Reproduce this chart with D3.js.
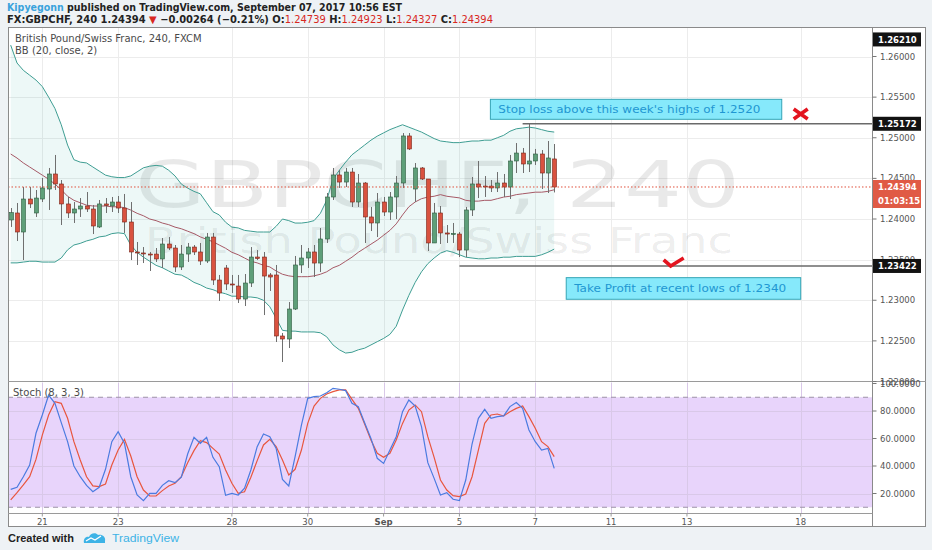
<!DOCTYPE html>
<html><head><meta charset="utf-8">
<script src="https://cdn.jsdelivr.net/npm/d3@7"></script>
<style>
body{margin:0;background:#eef2f5;}
svg{display:block;font-family:'DejaVu Sans',Verdana,sans-serif;}
</style></head>
<body><svg id="c" width="932" height="550"></svg>
<script>
// ---------- DATA ----------
const opens=[1.23988,1.24074,1.2384,1.24246,1.24074,1.24246,1.24369,1.24554,1.24431,1.24185,
1.24074,1.24123,1.2416,1.24123,1.23902,1.24185,1.2416,1.24209,1.24135,1.23963,
1.23594,1.23582,1.23569,1.23569,1.23508,1.23692,1.23643,1.23409,1.23569,1.23655,
1.23594,1.23483,1.23778,1.23249,1.23397,1.232,1.23175,1.23015,1.23212,1.23532,
1.23532,1.23311,1.23311,1.2256,1.22523,1.22892,1.23434,1.2352,1.23594,1.23458,
1.23754,1.24271,1.24542,1.24455,1.24578,1.24209,1.24443,1.24025,1.23951,1.24209,
1.24086,1.24271,1.24443,1.25022,1.24369,1.24628,1.24492,1.23705,1.24074,1.23828,
1.23815,1.23815,1.23618,1.24111,1.24431,1.24406,1.24406,1.24382,1.24443,1.24394,
1.24714,1.24812,1.24677,1.24714,1.248,1.24566,1.24739];
const highs=[1.24135,1.24197,1.24394,1.24394,1.24357,1.24505,1.24628,1.24788,1.2448,1.24271,
1.24209,1.24258,1.24332,1.24172,1.24234,1.24258,1.24271,1.24283,1.24308,1.24209,
1.23717,1.23655,1.23594,1.23643,1.23766,1.23778,1.2368,1.2368,1.23705,1.2368,
1.23705,1.23828,1.23828,1.23311,1.23434,1.23311,1.23311,1.23323,1.23655,1.23618,
1.23594,1.23335,1.23434,1.22597,1.22978,1.23545,1.2368,1.23643,1.2368,1.23889,
1.2432,1.24628,1.24603,1.24628,1.24628,1.24554,1.24455,1.24148,1.2432,1.24271,
1.24332,1.24529,1.25058,1.25058,1.24689,1.2464,1.24492,1.24197,1.2416,1.23926,
1.23951,1.2384,1.24148,1.24517,1.24714,1.24529,1.2448,1.24578,1.24554,1.24788,
1.24935,1.24874,1.25172,1.24862,1.24849,1.2496,1.24923];
const lows=[1.23902,1.23729,1.23495,1.24135,1.24025,1.24209,1.24111,1.24357,1.23926,1.24012,
1.23951,1.24025,1.24086,1.23815,1.23889,1.24074,1.24086,1.24074,1.23828,1.23495,
1.23434,1.23458,1.2336,1.23471,1.23397,1.23618,1.23348,1.23372,1.23471,1.23557,
1.23434,1.23458,1.23188,1.22991,1.23126,1.23089,1.22966,1.22929,1.23163,1.23495,
1.22818,1.23114,1.22486,1.2224,1.22412,1.2288,1.23335,1.23397,1.23286,1.23348,
1.23705,1.24234,1.24382,1.24394,1.24148,1.24148,1.23705,1.23852,1.23778,1.24037,
1.23988,1.24,1.24382,1.24849,1.24209,1.2448,1.23606,1.23705,1.23692,1.23705,
1.23705,1.23532,1.23532,1.24037,1.24258,1.24271,1.24332,1.24332,1.24271,1.24246,
1.24566,1.24566,1.24578,1.24665,1.24369,1.2432,1.24327];
const closes=[1.24078,1.2384,1.24246,1.24185,1.24258,1.24382,1.24554,1.24431,1.24185,1.24074,
1.24123,1.2416,1.24123,1.23914,1.24185,1.24166,1.24209,1.24135,1.23963,1.23594,
1.23582,1.23574,1.23561,1.23508,1.23692,1.23643,1.23409,1.23569,1.23655,1.23594,
1.23483,1.23778,1.23249,1.23089,1.232,1.23188,1.23015,1.23212,1.23532,1.23514,
1.23298,1.23286,1.2256,1.22523,1.22892,1.23434,1.2352,1.23594,1.23458,1.23754,
1.24271,1.24542,1.24455,1.24578,1.24209,1.24443,1.24025,1.23951,1.24209,1.24086,
1.24271,1.24443,1.25022,1.24862,1.24628,1.24492,1.23705,1.24074,1.23828,1.23815,
1.23822,1.23618,1.24111,1.24431,1.24394,1.24394,1.24382,1.24443,1.24394,1.24714,
1.24812,1.24677,1.24714,1.248,1.24566,1.24751,1.24394];

const bbUpper=[1.2614,1.2592,1.2583,1.2577,1.2571,1.2563,1.2550,1.2536,1.2516,1.2491,
1.2473,1.2470,1.2469,1.2464,1.2459,1.2454,1.2452,1.2451,1.2451,1.2453,
1.2458,1.2463,1.2465,1.2466,1.2465,1.2460,1.2453,1.2443,1.2438,1.2434,
1.2431,1.2420,1.2409,1.2405,1.2396,1.2390,1.2389,1.2386,1.2385,1.2384,
1.2384,1.2384,1.2391,1.2400,1.2398,1.2395,1.2395,1.2396,1.2398,1.2407,
1.2423,1.2449,1.2460,1.2470,1.2479,1.2485,1.2491,1.2497,1.2502,1.2506,
1.2510,1.2513,1.2516,1.2513,1.2510,1.2507,1.2503,1.2499,1.2496,1.2495,
1.2494,1.2494,1.2495,1.2496,1.2496,1.2497,1.2497,1.2500,1.2503,1.2508,
1.2511,1.2512,1.2513,1.2512,1.2510,1.2508,1.2507];
const bbBasis=[1.2480,1.2475,1.2469,1.2464,1.2459,1.2454,1.2449,1.2443,1.2436,1.2428,
1.2423,1.2420,1.2417,1.2416,1.2416,1.2416,1.2415,1.2415,1.2414,1.2411,
1.2407,1.2404,1.2400,1.2398,1.2395,1.2393,1.2390,1.2388,1.2385,1.2382,
1.2378,1.2375,1.2372,1.2368,1.2364,1.2359,1.2356,1.2352,1.2348,1.2346,
1.2343,1.2341,1.2336,1.2332,1.2330,1.2329,1.2329,1.2329,1.2330,1.2332,
1.2335,1.2340,1.2343,1.2348,1.2353,1.2359,1.2364,1.2369,1.2374,1.2380,
1.2386,1.2394,1.2405,1.2415,1.2421,1.2425,1.2427,1.2428,1.2430,1.2428,
1.2427,1.2426,1.2423,1.2422,1.2422,1.2423,1.2423,1.2425,1.2427,1.2428,
1.2430,1.2431,1.2432,1.2433,1.2433,1.2434,1.2436];
const bbLower=[1.2346,1.2346,1.2347,1.2348,1.2348,1.2347,1.2347,1.2347,1.2352,1.2362,
1.2368,1.2370,1.2373,1.2375,1.2378,1.2379,1.2382,1.2383,1.2382,1.2368,
1.2359,1.2353,1.2348,1.2343,1.2340,1.2336,1.2332,1.2331,1.2327,1.2322,
1.2319,1.2315,1.2313,1.2310,1.2308,1.2305,1.2305,1.2304,1.2304,1.2303,
1.2300,1.2292,1.2278,1.2263,1.2262,1.2262,1.2261,1.2261,1.2261,1.2260,
1.2255,1.2245,1.2239,1.2235,1.2236,1.2239,1.2241,1.2245,1.2249,1.2253,
1.2258,1.2268,1.2288,1.2306,1.2322,1.2335,1.2345,1.2352,1.2358,1.2361,
1.2359,1.2356,1.2353,1.2352,1.2351,1.2351,1.2352,1.2352,1.2353,1.2353,
1.2354,1.2354,1.2354,1.2354,1.2356,1.2359,1.2363];

const stochK=[23.0,24.5,32.2,40.7,63.8,77.1,91.6,85.6,71.5,57.7,40,32.2,25.9,21.3,24.5,37.6,57.7,65,56.5,32.2,
18.9,14.8,20.1,20.1,25.9,29.3,27.9,31.8,48.7,60.8,56.5,60.8,46.3,39.5,18.7,20.1,18.9,23.8,37.1,54.1,
63.3,61.3,52.8,30.3,25.5,46.8,69.8,89.2,90.4,90.9,93.3,96.5,95.8,94.8,85.6,83.2,71.5,60.1,45.6,41.9,
51.6,61.3,79.5,88,83.6,68.6,42.4,31,18.9,20.6,15.8,14.8,29.8,56,74.7,81.2,74.7,75.9,76.4,83.2,
86.1,81.9,66.2,57.7,51.6,52.8,38.3];
const stochD=[15.3,20.6,26.2,32.2,44.8,62.5,77.1,86.8,85.6,74.7,57.7,44.4,32.2,25.5,25,26.9,40.7,51.6,59.4,47.3,
32.2,22.5,18.2,18.2,22.1,25.5,27.4,32.2,42.4,51.2,58.4,57,52.8,48.7,37.1,27.4,20.1,21.3,31.8,43.9,
55.3,59.4,54.1,44.4,33.5,37.6,51.6,71,83.6,89.2,92.4,94.1,95.3,95.3,88.5,81.9,70.5,58.9,49.2,46.3,
49.2,58.9,71,80.7,84.4,79.5,61.3,46.3,29.8,22.5,18.4,17.7,19.6,32.2,51.6,71,77.1,77.8,76.4,79.5,
81.9,83.6,75.9,67.4,57.7,54.1,46.8];

const priceTicks=[1.22,1.225,1.23,1.235,1.24,1.245,1.25,1.255,1.26];
const stochTicks=[20,40,60,80,100];
const stochBands=[90,10];
const dateTickIndex=[5,17,35,47,59,71,83,95,107,125];
const dateTickLabels=["21","23","28","30","Sep","5","7","11","13","18"];

const lastPrice=1.24394, stopLevel=1.25172, targetLevel=1.23422, topMarker=1.26210;
const countdown="01:03:15";
const stopStart=81, targetStart=71;
const stopNote="Stop loss above this week's highs of 1.2520";
const targetNote="Take Profit at recent lows of 1.2340";

// ---------- LAYOUT ----------
const L=8, R=872.5, T=27, MAINB=381.5, STB=513.5, B=527, OUTR=926;
const svg=d3.select("#c");
const x=d3.scaleLinear().domain([0,1]).range([10.7,17.02]);
const y=d3.scaleLinear().domain([1.22,1.26]).range([381.5,56.5]);
const ys=d3.scaleLinear().domain([0,100]).range([521,383.5]);

// header
const h1=svg.append("text").attr("x",7).attr("y",11).attr("font-size",10).attr("font-weight","bold")
  .attr("textLength",395).attr("lengthAdjust","spacingAndGlyphs");
h1.append("tspan").attr("fill","#3aa3dc").text("Kipyegonn");
h1.append("tspan").attr("fill","#222").text(" published on TradingView.com, September 07, 2017 10:56 EST");
const h2=svg.append("text").attr("x",7).attr("y",23).attr("font-size",10).attr("font-weight","bold")
  .attr("textLength",486).attr("lengthAdjust","spacingAndGlyphs").attr("fill","#222");
h2.append("tspan").text("FX:GBPCHF, 240  1.24394 ");
h2.append("tspan").attr("fill","#d8281f").text("▼");
h2.append("tspan").text(" −0.00264 (−0.21%) O:");
h2.append("tspan").attr("fill","#d8281f").attr("font-weight","normal").text("1.24739");
h2.append("tspan").text(" H:");
h2.append("tspan").attr("fill","#d8281f").attr("font-weight","normal").text("1.24923");
h2.append("tspan").text(" L:");
h2.append("tspan").attr("fill","#d8281f").attr("font-weight","normal").text("1.24327");
h2.append("tspan").text(" C:");
h2.append("tspan").attr("fill","#d8281f").attr("font-weight","normal").text("1.24394");

// chart background
svg.append("rect").attr("x",L).attr("y",T).attr("width",OUTR-L).attr("height",B-T).attr("fill","#fff");

const defs=svg.append("defs");
defs.append("clipPath").attr("id","cm").append("rect").attr("x",L).attr("y",T).attr("width",R-L).attr("height",MAINB-T);
defs.append("clipPath").attr("id","cs").append("rect").attr("x",L).attr("y",MAINB+1).attr("width",R-L).attr("height",STB-MAINB-1);

const gm=svg.append("g").attr("clip-path","url(#cm)");
const gs=svg.append("g").attr("clip-path","url(#cs)");

// stoch background band
gs.append("rect").attr("x",L).attr("width",R-L).attr("y",ys(stochBands[0])).attr("height",ys(stochBands[1])-ys(stochBands[0])).attr("fill","#e8d4fb");

// grids
gm.selectAll(".hg").data(priceTicks).join("line").attr("x1",L).attr("x2",R)
  .attr("y1",d=>Math.round(y(d))+0.5).attr("y2",d=>Math.round(y(d))+0.5).attr("stroke","#ececec");
gs.selectAll(".hg").data(stochTicks.slice(0,4)).join("line").attr("x1",L).attr("x2",R)
  .attr("y1",d=>Math.round(ys(d))+0.5).attr("y2",d=>Math.round(ys(d))+0.5).attr("stroke","#d9c8e8");
dateTickIndex.forEach(i=>{
  const xx=Math.round(x(i))+0.5;
  gm.append("line").attr("x1",xx).attr("x2",xx).attr("y1",T).attr("y2",MAINB).attr("stroke","#ececec");
  gs.append("line").attr("x1",xx).attr("x2",xx).attr("y1",MAINB).attr("y2",STB).attr("stroke","#d9c8e8");
});

// watermark
gm.append("text").attr("x",135).attr("y",207).attr("font-size",64).attr("fill","rgba(0,0,0,0.085)")
  .attr("textLength",605).attr("lengthAdjust","spacingAndGlyphs").text("GBPCHF, 240");
gm.append("text").attr("x",145).attr("y",253).attr("font-size",36).attr("fill","rgba(0,0,0,0.085)")
  .attr("textLength",588).attr("lengthAdjust","spacingAndGlyphs").text("British Pound/Swiss Franc");

// BB
gm.append("path").datum(bbUpper).attr("fill","rgba(0,150,136,0.07)")
  .attr("d",d3.area().x((d,i)=>x(i)).y0((d,i)=>y(bbLower[i])).y1(d=>y(d)));
const ln=d3.line().x((d,i)=>x(i)).y(d=>y(d));
gm.append("path").datum(bbUpper).attr("fill","none").attr("stroke","#3e9d92").attr("stroke-width",1).attr("d",ln);
gm.append("path").datum(bbLower).attr("fill","none").attr("stroke","#3e9d92").attr("stroke-width",1).attr("d",ln);
gm.append("path").datum(bbBasis).attr("fill","none").attr("stroke","#a65966").attr("stroke-width",1).attr("d",ln);

// candles
const idx=d3.range(opens.length);
gm.selectAll(".wick").data(idx).join("line").attr("x1",i=>Math.round(x(i))+0.5).attr("x2",i=>Math.round(x(i))+0.5)
  .attr("y1",i=>y(highs[i])).attr("y2",i=>y(lows[i])).attr("stroke","#6f6f6f").attr("stroke-width",1);
gm.selectAll(".body").data(idx).join("rect")
  .attr("x",i=>Math.round(x(i))-1.5).attr("width",4)
  .attr("y",i=>y(Math.max(opens[i],closes[i])))
  .attr("height",i=>Math.max(1,y(Math.min(opens[i],closes[i]))-y(Math.max(opens[i],closes[i]))))
  .attr("fill",i=>closes[i]>=opens[i]?"#5e9f79":"#d9523f")
  .attr("stroke",i=>closes[i]>=opens[i]?"#2c5a3e":"#7a2418").attr("stroke-width",0.6);

// last price dotted line
gm.append("line").attr("x1",L).attr("x2",R).attr("y1",y(lastPrice)).attr("y2",y(lastPrice))
  .attr("stroke","#e0503c").attr("stroke-dasharray","1.5,2");

// stop / target lines
gm.append("line").attr("x1",x(stopStart)).attr("x2",R).attr("y1",y(stopLevel)).attr("y2",y(stopLevel)).attr("stroke","#6a6a6a").attr("stroke-width",1.5);
gm.append("line").attr("x1",x(targetStart)).attr("x2",R).attr("y1",y(targetLevel)).attr("y2",y(targetLevel)).attr("stroke","#6a6a6a").attr("stroke-width",1.5);

// notes
function note(i0,i1,p0,p1,txt,len){
  const g=gm.append("g");
  g.append("rect").attr("x",x(i0)).attr("y",y(p0)).attr("width",x(i1)-x(i0)).attr("height",y(p1)-y(p0))
    .attr("fill","#86e9fb").attr("stroke","#35a5b6").attr("stroke-width",1);
  g.append("text").attr("x",x(i0)+8).attr("y",(y(p0)+y(p1))/2+3.5).attr("font-size",10).attr("fill","#1f97d2")
    .attr("textLength",len).attr("lengthAdjust","spacingAndGlyphs").text(txt);
}
note(75.9,122,1.25473,1.25227,stopNote,262);
note(87.9,125,1.23278,1.23012,targetNote,212);

// red X and check mark
const xc=x(125), yc=y(1.25292);
gm.append("path").attr("d",`M${xc-7},${yc-5}L${xc+7},${yc+5}M${xc-7},${yc+5}L${xc+7},${yc-5}`)
  .attr("stroke","#e3141f").attr("stroke-width",3.6).attr("stroke-linecap","butt");
const cx=x(104.9), cy=y(1.23471);
gm.append("path").attr("d",`M${cx-10},${cy-2}L${cx-3},${cy+4}L${cx+10},${cy-4}`)
  .attr("fill","none").attr("stroke","#e3141f").attr("stroke-width",3.6);

// legends
svg.append("text").attr("x",15).attr("y",42).attr("font-size",10).attr("fill","#4a4a4a").text("British Pound/Swiss Franc, 240, FXCM");
svg.append("text").attr("x",15).attr("y",54).attr("font-size",10).attr("fill","#4a4a4a").text("BB (20, close, 2)");

// stoch dashed bands
stochBands.forEach(v=>{
  gs.append("line").attr("x1",L).attr("x2",R).attr("y1",ys(v)).attr("y2",ys(v)).attr("stroke","#9d92a6").attr("stroke-dasharray","5,4");
});
const sl=d3.line().x((d,i)=>x(i)).y(d=>ys(d));
gs.append("path").datum(stochD).attr("fill","none").attr("stroke","#e8563e").attr("stroke-width",1.2).attr("d",sl);
gs.append("path").datum(stochK).attr("fill","none").attr("stroke","#4b7be0").attr("stroke-width",1.2).attr("d",sl);
svg.append("text").attr("x",13).attr("y",396).attr("font-size",10).attr("fill","#4a4a4a").text("Stoch (8, 3, 3)");

// frames
svg.append("rect").attr("x",L+0.5).attr("y",T+0.5).attr("width",OUTR-L-1).attr("height",B-T-1).attr("fill","none").attr("stroke","#8a8a8a");
svg.append("line").attr("x1",R).attr("x2",R).attr("y1",T).attr("y2",B).attr("stroke","#8a8a8a");
svg.append("line").attr("x1",L).attr("x2",OUTR).attr("y1",MAINB).attr("y2",MAINB).attr("stroke","#9a9a9a");
svg.append("line").attr("x1",L).attr("x2",R).attr("y1",STB).attr("y2",STB).attr("stroke","#9a9a9a");

// price axis
const ax=svg.append("g");
priceTicks.forEach(p=>{
  ax.append("line").attr("x1",R).attr("x2",R+4).attr("y1",y(p)).attr("y2",y(p)).attr("stroke","#777");
  ax.append("text").attr("x",880).attr("y",y(p)+3).attr("font-size",8.5).attr("fill","#555").text(p.toFixed(5));
});
stochTicks.forEach(v=>{
  ax.append("line").attr("x1",R).attr("x2",R+4).attr("y1",ys(v)).attr("y2",ys(v)).attr("stroke","#777");
  ax.append("text").attr("x",880).attr("y",ys(v)+3).attr("font-size",8.5).attr("fill","#555").text(v.toFixed(4));
});
function tag(v,txt,fill,dy){
  const yy=y(v)+(dy||0);
  ax.append("rect").attr("x",R+0.5).attr("y",yy-7).attr("width",48).attr("height",14).attr("fill",fill);
  ax.append("text").attr("x",878).attr("y",yy+3.2).attr("font-size",8.5).attr("font-weight","bold").attr("fill","#fff").text(txt);
}
tag(topMarker,topMarker.toFixed(5),"#121212");
tag(stopLevel,stopLevel.toFixed(5),"#121212");
tag(targetLevel,targetLevel.toFixed(5),"#121212");
tag(lastPrice,lastPrice.toFixed(5),"#e05a45");
tag(lastPrice,countdown,"#e05a45",14);

// time axis
dateTickIndex.forEach((i,k)=>{
  ax.append("line").attr("x1",x(i)).attr("x2",x(i)).attr("y1",STB).attr("y2",STB+3).attr("stroke","#999");
  ax.append("text").attr("x",x(i)).attr("y",524.5).attr("text-anchor","middle").attr("font-size",8.5)
    .attr("font-weight",dateTickLabels[k]==="Sep"?"bold":"normal").attr("fill","#555").text(dateTickLabels[k]);
});

// footer
svg.append("text").attr("x",8).attr("y",542).attr("font-family","'Liberation Sans Narrow','Liberation Sans',sans-serif")
  .attr("font-size",11).attr("font-weight","bold").attr("fill","#222").attr("textLength",66).attr("lengthAdjust","spacingAndGlyphs").text("Created with");
svg.append("path").attr("d","M84,543 C83,539 86,536 89,537 C90,533 96,532 98,535 C102,534 106,537 105,541 L105,543 Z").attr("fill","#3db3e6");
svg.append("path").attr("d","M86,541 L91,538 L95,540 L101,536").attr("fill","none").attr("stroke","#fff").attr("stroke-width",1.3);
svg.append("text").attr("x",112).attr("y",542).attr("font-family","'Liberation Sans Narrow','Liberation Sans',sans-serif")
  .attr("font-size",11.5).attr("fill","#3db3e6").attr("textLength",67).attr("lengthAdjust","spacingAndGlyphs").text("TradingView");
</script></body></html>
